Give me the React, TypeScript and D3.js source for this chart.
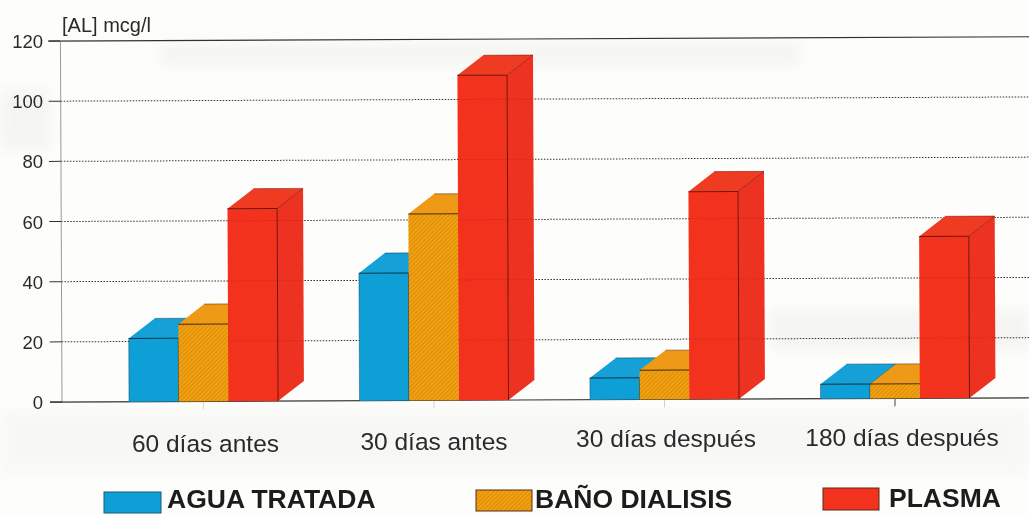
import React from "react";
import * as d3 from "d3";

const categories = ["60 días antes", "30 días antes", "30 días después", "180 días después"];
const aguaTratada = [21, 42.4, 7.2, 4.8];
const banoDialisis = [25.7, 62, 9.7, 4.8];
const plasma = [64, 108, 69, 53.8];
const yTicks = [0, 20, 40, 60, 80, 100, 120];
const seriesNames = ["AGUA TRATADA", "BAÑO DIALISIS", "PLASMA"];
const seriesFront = ["#0f9fd6", "url(#hatch)", "#f2331f"];
const seriesTop = ["#12a0d8", "#ee9a12", "#ee3a22"];
const seriesSide = ["#0c8fc4", "#e8920f", "#ee3321"];
const seriesData = [aguaTratada, banoDialisis, plasma];
const tickOpacity = [0.2, 0.2, 0.25, 1];
const labelX = [205.5, 434, 666, 902];
const labelY = [452, 450, 447, 446];
const legendSwatchX = [104, 476, 823];
const legendSwatchY = [492, 490, 488];
const legendSwatchW = [57, 56, 56];
const legendSwatchH = [21, 21, 22];
const legendTextX = [167, 535, 889];
const legendTextY = [508, 508, 507];

const W = 1029, H = 514;
const dx = 26, dy = 20;

const y = d3.scaleLinear().domain([0, 120]).range([402, 41]);
const x0 = d3.scaleBand<string>().domain(categories).range([88.25, 1010.25]);
const x1 = d3.scaleBand<string>().domain(seriesNames).range([0, 149]);

const font = "Liberation Sans, Arial, sans-serif";
const ink = "#2a2a2a";

export default function App() {
  const groupX = (i: number) => (x0(categories[i]) as number) + x0.bandwidth() / 2 - 74.5;
  const pathStr = (pts: [number, number][]) => (d3.line()(pts) as string) + "Z";
  return (
    <svg width={W} height={H} style={{ position: "absolute", left: 0, top: 0, background: "#fdfdfb" }}>
      <defs>
        <pattern id="hatch" width="3" height="3" patternUnits="userSpaceOnUse" patternTransform="rotate(45)">
          <rect width="3" height="3" fill="#f2a30f" />
          <rect width="1.1" height="3" fill="#dc8a12" />
        </pattern>
        <filter id="ghost" x="-10%" y="-50%" width="120%" height="200%">
          <feGaussianBlur stdDeviation="7" />
        </filter>
        <filter id="soft" x="-5%" y="-5%" width="110%" height="110%">
          <feGaussianBlur stdDeviation="0.55" />
        </filter>
      </defs>

      <g filter="url(#ghost)" fill="#d8d8d4" opacity={0.22}>
        <rect x={160} y={44} width={640} height={22} />
        <rect x={0} y={90} width={50} height={60} />
        <rect x={770} y={310} width={259} height={40} />
        <rect x={0} y={410} width={1029} height={65} opacity={0.6} />
      </g>

      <g filter="url(#soft)">
        <g transform="rotate(-0.25 62 402)">
          {yTicks.filter((t) => t > 0 && t < 120).map((t) => (
            <line key={t} x1={62} x2={W + 5} y1={y(t)} y2={y(t)} stroke="#333" strokeWidth={1} strokeDasharray="1.5 1.5" />
          ))}
          <line x1={50} x2={W + 5} y1={y(120)} y2={y(120)} stroke="#333" strokeWidth={1.2} />
          <line x1={62} x2={62} y1={y(120)} y2={y(0)} stroke="#999" strokeWidth={1} />
          <line x1={50} x2={W + 5} y1={y(0)} y2={y(0)} stroke="#333" strokeWidth={1.2} />

          {yTicks.map((t) => (
            <line key={t} x1={50} x2={62} y1={y(t)} y2={y(t)} stroke="#333" />
          ))}

          {categories.map((c, i) => (
            <line key={c} x1={groupX(i) + 74.5} x2={groupX(i) + 74.5} y1={y(0)} y2={410} stroke="#444" opacity={tickOpacity[i]} />
          ))}

          {categories.map((c, i) => (
            <g key={c}>
              {seriesNames.map((s, j) => {
                const xl = groupX(i) + (x1(s) as number);
                const w = x1.bandwidth();
                const xr = xl + w;
                const yt = y(seriesData[j][i]);
                const yb = y(0);
                const edge = j === 0 ? "#123044" : j === 1 ? "#4a2a10" : "#6e120a";
                return (
                  <g key={s}>
                    <path d={pathStr([[xr, yb], [xr + dx, yb - dy], [xr + dx, yt - dy], [xr, yt]])} fill={seriesSide[j]} />
                    <path d={pathStr([[xl, yt], [xl + dx, yt - dy], [xr + dx, yt - dy], [xr, yt]])} fill={seriesTop[j]} />
                    <line x1={xl + dx} x2={xr + dx} y1={yt - dy} y2={yt - dy} stroke={edge} strokeWidth={0.7} opacity={0.7} />
                    <line x1={xr} x2={xr + dx} y1={yt} y2={yt - dy} stroke={edge} strokeWidth={0.8} opacity={0.8} />
                    <rect x={xl} y={yt} width={w} height={yb - yt} fill={seriesFront[j]} />
                    <line x1={xl} x2={xr} y1={yt} y2={yt} stroke={edge} strokeWidth={1} />
                    {j !== 1 && <line x1={xr} x2={xr} y1={yt} y2={yb} stroke={edge} strokeWidth={1} />}
                    {j === 0 && <line x1={xl} x2={xl} y1={yt} y2={yb} stroke={edge} strokeWidth={0.8} opacity={0.5} />}
                    {j === 2 && yTicks.filter((t) => t > 0 && y(t) > yt && y(t) < yb).map((t) => (
                      <line key={t} x1={xl} x2={xr + dx} y1={y(t)} y2={y(t)} stroke="#8a1a10" strokeWidth={1} strokeDasharray="1.5 1.5" opacity={0.35} />
                    ))}
                  </g>
                );
              })}
            </g>
          ))}
        </g>

        {yTicks.map((t) => (
          <text key={t} x={43} y={y(t) + 7} textAnchor="end" fontFamily={font} fontSize={18.5} fill={ink}>{t}</text>
        ))}
        <text x={62} y={32} fontFamily={font} fontSize={20} fill={ink}>[AL] mcg/l</text>

        {categories.map((c, i) => (
          <text key={c} x={labelX[i]} y={labelY[i]} textAnchor="middle" fontFamily={font} fontSize={24.5} fill={ink}>{c}</text>
        ))}

        {seriesNames.map((s, j) => (
          <g key={s}>
            <rect x={legendSwatchX[j]} y={legendSwatchY[j]} width={legendSwatchW[j]} height={legendSwatchH[j]} fill={seriesFront[j]} stroke={j === 0 ? "#1b5a78" : "#5a2a18"} strokeWidth={1} />
            <text x={legendTextX[j]} y={legendTextY[j]} fontFamily={font} fontSize={26.5} fontWeight={700} fill="#1c1c1c">{s}</text>
          </g>
        ))}
      </g>
    </svg>
  );
}
